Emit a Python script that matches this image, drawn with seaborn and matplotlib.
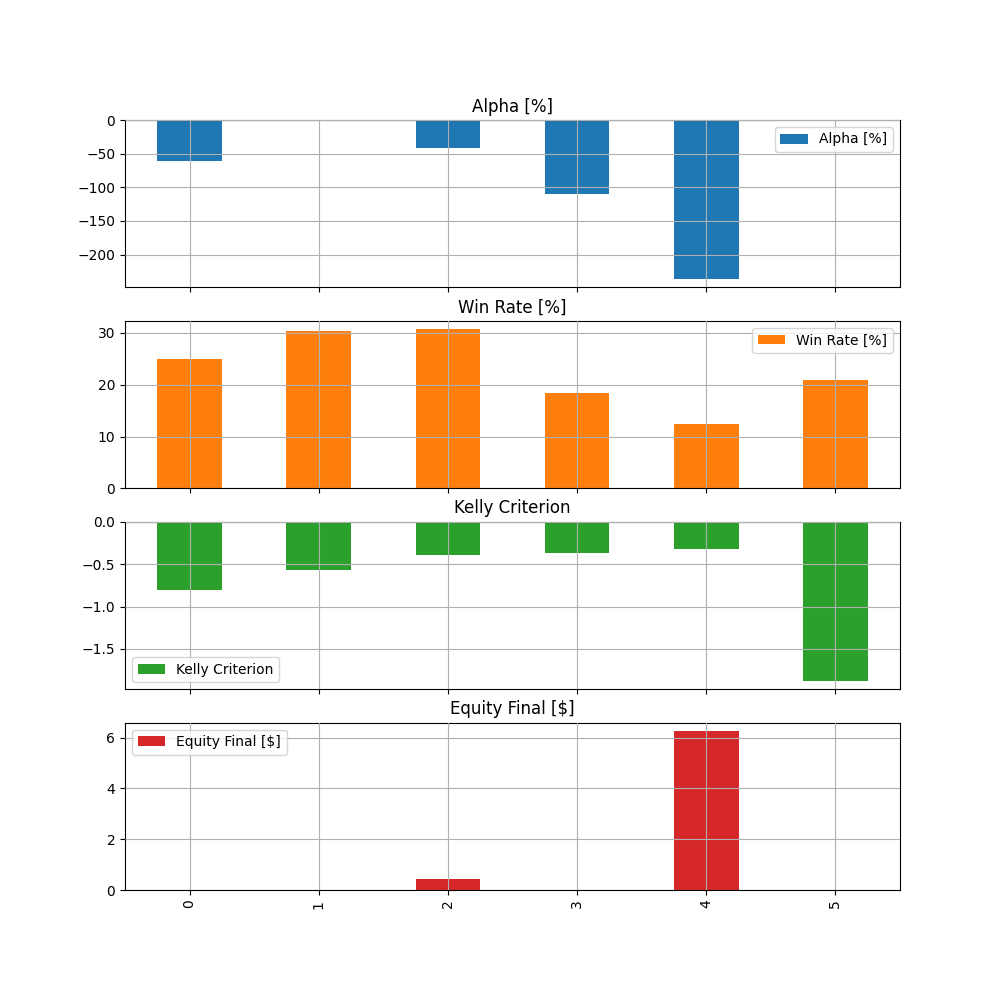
import numpy as np
import pandas as pd
import seaborn as sns
from matplotlib import pyplot as plt
from matplotlib.patches import Patch

runs = ["0", "1", "2", "3", "4", "5"]
alpha = [-61, 0, -42, -110, -237, 0]
win_rate = [25.0, 30.4, 30.8, 18.4, 12.4, 20.9]
kelly = [-0.80, -0.57, -0.39, -0.37, -0.32, -1.88]
equity_final = [0, 0, 0.43, 0, 6.28, 0]

df = pd.DataFrame({
  "run": runs,
  "Alpha [%]": alpha,
  "Win Rate [%]": win_rate,
  "Kelly Criterion": kelly,
  "Equity Final [$]": equity_final,
})

panels = [
  ("Alpha [%]", "C0", "upper right"),
  ("Win Rate [%]", "C1", "upper right"),
  ("Kelly Criterion", "C2", "lower left"),
  ("Equity Final [$]", "C3", "upper left"),
]

fig, axes = plt.subplots(4, 1, figsize=(10, 10), dpi=100, sharex=True)

for ax, (col, color, loc) in zip(axes, panels):
  sns.barplot(data=df, x="run", y=col, color=color, width=0.5, saturation=1, ax=ax)
  ax.set_title(col)
  ax.set_xlabel("")
  ax.set_ylabel("")
  ax.grid(True)
  ax.set_axisbelow(False)
  ax.legend(handles=[Patch(facecolor=color, label=col)], loc=loc)

axes[-1].tick_params(axis="x", labelrotation=90)

plt.savefig("out.png")
